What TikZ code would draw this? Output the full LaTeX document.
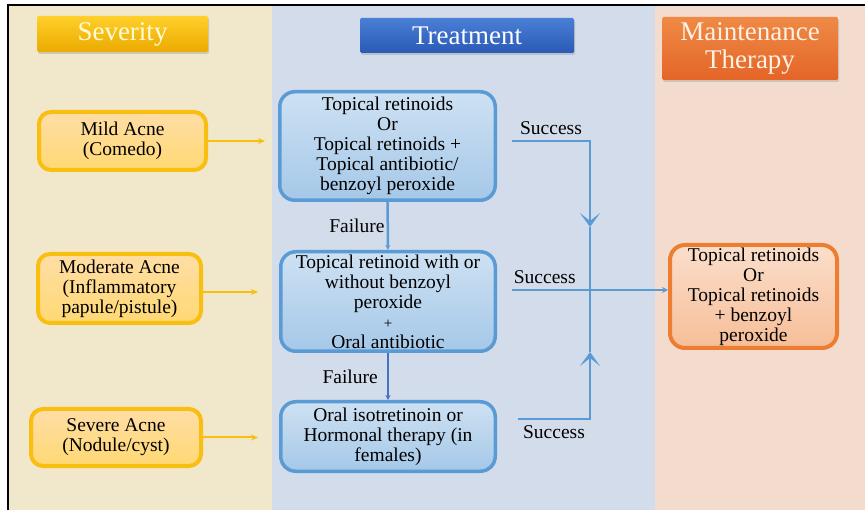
\documentclass[tikz,border=0pt]{standalone}
\usepackage{fontspec}
\setmainfont{Liberation Serif}
\usetikzlibrary{arrows.meta,shadows}

\definecolor{sevpanel}{HTML}{F1E7CB}
\definecolor{trtpanel}{HTML}{D3DCEA}
\definecolor{mntpanel}{HTML}{F3DCCD}
\definecolor{acgold}{HTML}{F8BF10}
\definecolor{acblue}{HTML}{5B9BD5}
\definecolor{acdblue}{HTML}{4472C4}
\definecolor{acorange}{HTML}{ED7D31}
\definecolor{hdblue}{HTML}{4A7FD6}
\definecolor{hddblue}{HTML}{2A5AB6}
\definecolor{hdgold}{HTML}{FFCF2A}
\definecolor{hddgold}{HTML}{EBAA00}

\newcommand{\bodyfont}{\fontsize{19.5}{20}\selectfont}
\newcommand{\headfont}{\fontsize{27}{28}\selectfont}

\begin{document}
\begin{tikzpicture}[x=1pt, y=-1pt,
    head/.style={rounded corners=1.5pt, inner sep=0pt, align=center, font=\headfont,
      drop shadow={shadow xshift=1pt, shadow yshift=-2pt, opacity=.3}},
    sevbox/.style={draw=acgold, line width=4pt, rounded corners=12pt, inner sep=0pt,
      align=center, font=\bodyfont, top color=yellow!25!orange!35!white, bottom color=yellow!45!orange!55!white},
    trtbox/.style={draw=acblue, line width=3.5pt, rounded corners=15pt, inner sep=0pt,
      align=center, font=\bodyfont, top color=acblue!30!white, bottom color=acblue!55!white},
    mntbox/.style={draw=acorange, line width=4pt, rounded corners=15pt, inner sep=0pt,
      align=center, font=\bodyfont, top color=acorange!25!white, bottom color=acorange!50!white},
    sevarrow/.style={draw=acgold, line width=2pt, -{Stealth[length=7pt,width=6pt]}},
    succline/.style={draw=acblue, line width=2pt},
    chevron/.style={-{Stealth[length=14pt,width=20pt,inset=8pt]}},
    lbl/.style={font=\bodyfont, inner sep=1pt}
  ]
    \useasboundingbox (0,0) rectangle (865,510);
    % panels
    \fill[white] (0,0) rectangle (865,510);
    \fill[sevpanel] (9,6) rectangle (272,510);
    \fill[trtpanel] (272,6) rectangle (655,510);
    \fill[mntpanel] (655,6) rectangle (865,510);
    \draw[line width=2pt] (8,510) -- (8,5) -- (865,5);

    % headers
    \node[head, minimum width=171pt, minimum height=36pt, top color=hdgold, bottom color=hddgold,
      text=yellow!15!white] (sevhead) at (122.5, 34) {Severity};
    \node[head, minimum width=214pt, minimum height=35pt, top color=hdblue, bottom color=hddblue,
      text=white] (trthead) at (467, 35.5) {Treatment};
    \node[head, minimum width=176pt, minimum height=63pt, top color=acorange!90!white, bottom color=acorange!85!red!95!black,
      text=orange!10!white] (mnthead) at (750, 48.5) {Maintenance\\Therapy};

    % severity
    \node[sevbox, minimum width=167pt, minimum height=58pt] (mild) at (122.5, 141) {Mild Acne\\(Comedo)};
    \node[sevbox, minimum width=163pt, minimum height=69pt] (moderate) at (119.5, 288.5) {Moderate Acne\\(Inflammatory\\papule/pistule)};
    \node[sevbox, minimum width=170pt, minimum height=57pt] (severe) at (116, 437.5) {Severe Acne\\(Nodule/cyst)};

    % treatment
    \node[trtbox, minimum width=215.5pt, minimum height=108.5pt] (tr1) at (387.5, 146)
      {Topical retinoids\\Or\\Topical retinoids +\\Topical antibiotic/\\benzoyl peroxide};
    \node[trtbox, minimum width=214.5pt, minimum height=99.5pt] (tr2) at (388, 301.5)
      {Topical retinoid with or\\without benzoyl\\peroxide\\{\fontsize{15}{20}\selectfont +}\\Oral antibiotic};
    \node[trtbox, minimum width=214.5pt, minimum height=69.5pt] (tr3) at (388, 436.5)
      {Oral isotretinoin or\\Hormonal therapy (in\\females)};

    % maintenance
    \node[mntbox, minimum width=167pt, minimum height=103pt] (mnt) at (753.5, 296.5)
      {Topical retinoids\\Or\\Topical retinoids\\+ benzoyl\\peroxide};

    \coordinate (s1) at (512, 141);
    \coordinate (s2) at (512, 290);
    \coordinate (s3) at (518, 419);
    \coordinate (dn) at (590, 227);
    \coordinate (up) at (590, 352);
    \coordinate (j) at (590, 290);

    \draw [sevarrow, shorten >=13pt] (mild.east) to (mild.east -| tr1.west);
    \draw [sevarrow, shorten >=21pt] ([yshift=-3.5pt]moderate.east) to ([yshift=-3.5pt]moderate.east -| tr2.west);
    \draw [sevarrow, shorten >=21pt] (severe.east) to (severe.east -| tr3.west);

    \draw [draw=acblue, line width=2.5pt, -{Stealth[length=5pt,width=5pt]}] (tr1) to node[lbl, left=1pt] {Failure} (tr2);
    \draw [draw=acdblue, line width=2.5pt, -{Stealth[length=5pt,width=5pt]}] (tr2) to node[lbl, left=8pt] {Failure} (tr3);

    \draw [succline, chevron] (s1) -| node[lbl, pos=0.25, above=4pt] {Success} (dn);
    \draw [succline] (dn) -- (j);
    \draw [succline, chevron] (s3) -| node[lbl, pos=0.25, below=5pt] {Success} (up);
    \draw [succline] (up) -- (j);
    \draw [succline, -{Stealth[length=6pt,width=6pt]}] (s2) to node[lbl, pos=0.21, above=4pt] {Success} (s2 -| mnt.west);
  \end{tikzpicture}
\end{document}
